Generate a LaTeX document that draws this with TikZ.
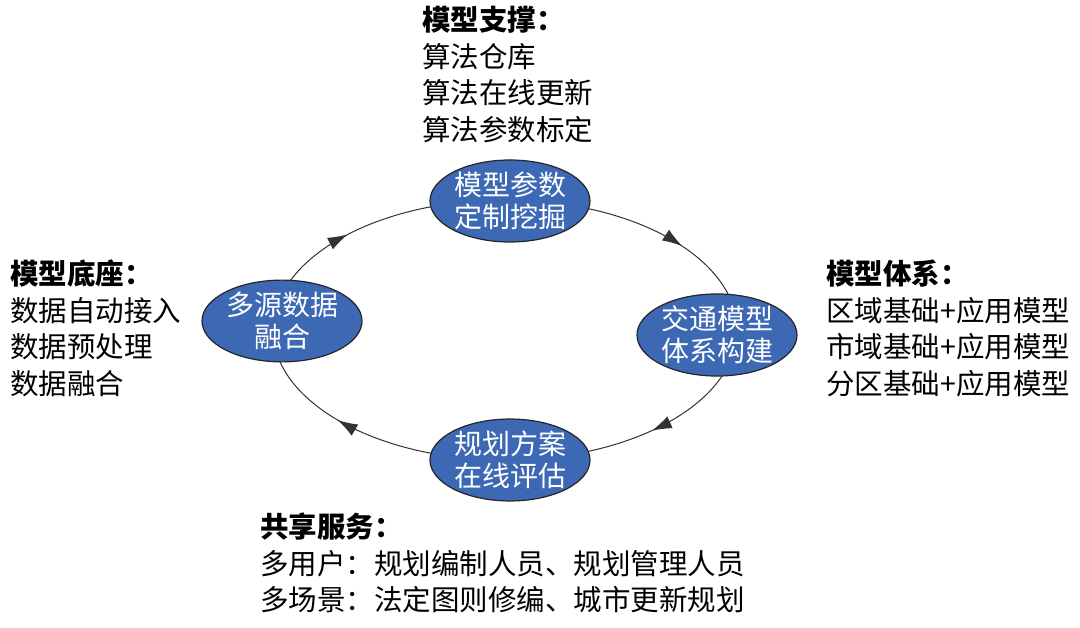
\documentclass[tikz,border=0pt]{standalone}
\usepackage{fontspec}
\setmainfont{Noto Sans CJK SC}
\usetikzlibrary{shapes.geometric,decorations.markings,arrows.meta}
\definecolor{nodeblue}{HTML}{3C68B4}
\tikzset{
 bub/.style={ellipse,draw=black!85,line width=1.2pt,fill=nodeblue,text=white,minimum width=160pt,minimum height=80pt,inner sep=0pt,align=center,font=\fontsize{28}{32}\selectfont},
 lab/.style={anchor=north west,align=left,font=\fontsize{28.5}{36.5}\selectfont,inner sep=0pt},
 ring/.style={draw=black!80,line width=1pt,postaction={decorate},decoration={markings,
   mark=at position 0.12 with {\arrow{Latex[length=20pt,width=13pt]}},
   mark=at position 0.40 with {\arrow{Latex[length=20pt,width=13pt]}},
   mark=at position 0.61 with {\arrow{Latex[length=20pt,width=13pt]}},
   mark=at position 0.91 with {\arrow{Latex[length=20pt,width=13pt]}}}}
}
\begin{document}
\begin{tikzpicture}[x=1pt,y=-1pt]
\useasboundingbox (0,0) rectangle (1080,628);
\coordinate (c) at (505,330);
\draw[ring] (c) ellipse [x radius=232, y radius=130];
\node[bub] (t) at (510,201) {模型参数\\定制挖掘};
\node[bub] (l) at (282,321) {多源数据\\融合};
\node[bub] (r) at (717,335) {交通模型\\体系构建};
\node[bub] (b) at (510,460) {规划方案\\在线评估};
\node[lab] (tl) at (422,6) {\textbf{模型支撑：}\\算法仓库\\算法在线更新\\算法参数标定};
\node[lab] (ll) at (10,260) {\textbf{模型底座：}\\数据自动接入\\数据预处理\\数据融合};
\node[lab] (rl) at (826,260) {\textbf{模型体系：}\\区域基础+应用模型\\市域基础+应用模型\\分区基础+应用模型};
\node[lab] (bl) at (260,513) {\textbf{共享服务：}\\多用户：规划编制人员、规划管理人员\\多场景：法定图则修编、城市更新规划};
\end{tikzpicture}
\end{document}
